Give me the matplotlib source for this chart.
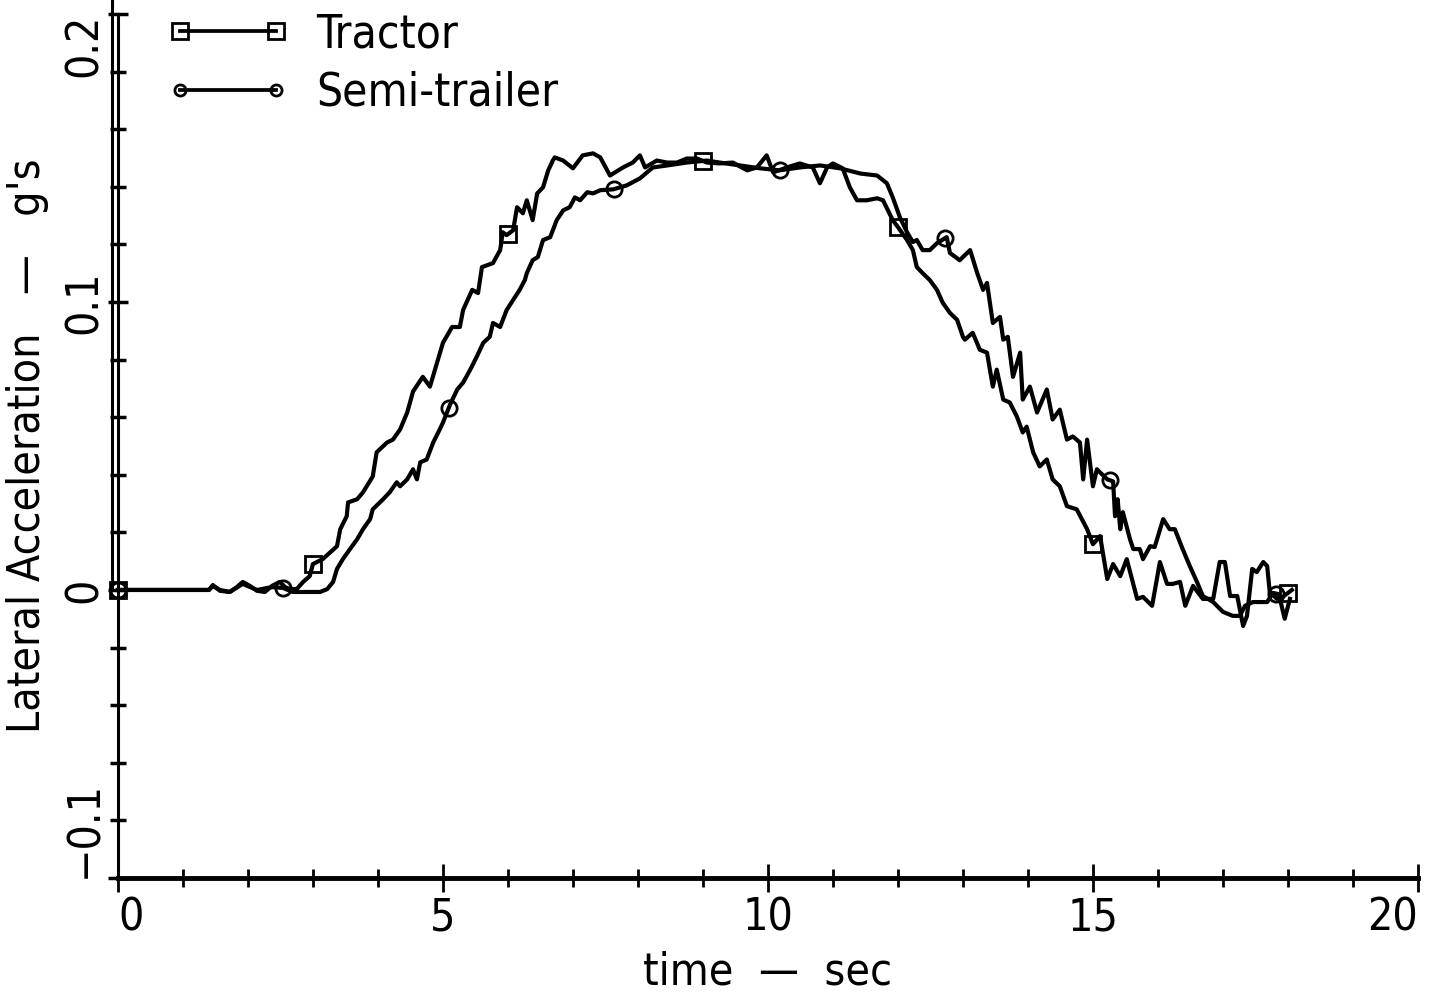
import numpy as np
import matplotlib
matplotlib.use('Agg')
import matplotlib.pyplot as plt
from matplotlib.lines import Line2D
from matplotlib.legend_handler import HandlerLine2D
from matplotlib.ticker import MultipleLocator
from matplotlib.transforms import offset_copy

plt.rcParams['font.family'] = ['DejaVu Sans']
plt.rcParams['font.stretch'] = 'condensed'

# (time in sec, lateral acceleration in g's)
tractor_trace = [
    (0.00, 0.0), (1.40, 0.0), (1.46, 0.0017), (1.57, -0.0003), (1.72, -0.0007),
    (1.83, 0.0010), (1.92, 0.0028), (2.03, 0.0014), (2.14, -0.0003), (2.26, -0.0007),
    (2.37, 0.0014), (2.49, 0.0028), (2.57, 0.0010), (2.65, 0.0003), (2.75, 0.0003),
    (2.85, 0.0028), (2.95, 0.0048), (3.00, 0.0090), (3.15, 0.0107), (3.37, 0.0152),
    (3.42, 0.0211), (3.52, 0.0256), (3.54, 0.0304), (3.68, 0.0315), (3.77, 0.0339),
    (3.92, 0.0394), (3.98, 0.0478), (4.14, 0.0512), (4.23, 0.0522), (4.34, 0.0557),
    (4.45, 0.0616), (4.54, 0.0689), (4.69, 0.0740), (4.80, 0.0706), (4.91, 0.0789),
    (5.00, 0.0858), (5.14, 0.0913), (5.26, 0.0913), (5.31, 0.0972), (5.45, 0.1042),
    (5.54, 0.1031), (5.60, 0.1121), (5.77, 0.1135), (5.88, 0.1180), (5.92, 0.1242),
    (5.98, 0.1232), (6.08, 0.1249), (6.14, 0.1329), (6.23, 0.1308), (6.29, 0.1353),
    (6.38, 0.1284), (6.45, 0.1377), (6.54, 0.1398), (6.62, 0.1457), (6.69, 0.1491),
    (6.72, 0.1502), (6.85, 0.1491), (7.00, 0.1464), (7.15, 0.1509), (7.31, 0.1516),
    (7.42, 0.1502), (7.57, 0.1439), (7.77, 0.1467), (7.92, 0.1484), (8.03, 0.1509),
    (8.11, 0.1467), (8.29, 0.1491), (8.45, 0.1484), (8.60, 0.1484), (8.75, 0.1498),
    (8.91, 0.1498), (9.06, 0.1484), (9.26, 0.1481), (9.46, 0.1484), (9.68, 0.1457),
    (9.83, 0.1467), (9.98, 0.1509), (10.08, 0.1450), (10.29, 0.1467), (10.49, 0.1481),
    (10.69, 0.1467), (10.80, 0.1412), (10.91, 0.1467), (11.00, 0.1481), (11.15, 0.1464),
    (11.26, 0.1398), (11.37, 0.1353), (11.52, 0.1353), (11.68, 0.1360), (11.77, 0.1353),
    (11.92, 0.1284), (12.00, 0.1260), (12.14, 0.1215), (12.23, 0.1180), (12.29, 0.1121),
    (12.38, 0.1100), (12.49, 0.1076), (12.60, 0.1042), (12.69, 0.0997), (12.80, 0.0962),
    (12.91, 0.0938), (13.00, 0.0879), (13.03, 0.0869), (13.15, 0.0893), (13.26, 0.0834),
    (13.37, 0.0824), (13.46, 0.0706), (13.52, 0.0765), (13.62, 0.0661), (13.72, 0.0651),
    (13.83, 0.0602), (13.92, 0.0547), (13.98, 0.0567), (14.08, 0.0478), (14.18, 0.0429),
    (14.29, 0.0453), (14.38, 0.0384), (14.49, 0.0360), (14.60, 0.0291), (14.75, 0.0280),
    (14.91, 0.0211), (15.00, 0.0159), (15.11, 0.0187), (15.22, 0.0038), (15.31, 0.0090),
    (15.42, 0.0048), (15.52, 0.0107), (15.62, 0.0021), (15.68, -0.0031), (15.77, -0.0024),
    (15.91, -0.0055), (16.03, 0.0097), (16.14, 0.0021), (16.23, 0.0021), (16.34, 0.0028),
    (16.42, -0.0055), (16.54, 0.0014), (16.69, -0.0031), (16.85, -0.0031), (16.95, 0.0097),
    (17.03, 0.0097), (17.11, -0.0021), (17.22, -0.0021), (17.31, -0.0125), (17.37, -0.0090),
    (17.45, 0.0073), (17.52, 0.0062), (17.62, 0.0097), (17.68, 0.0083), (17.72, -0.0007),
    (17.83, -0.0031), (17.92, -0.0024), (18.06, 0.0),
]

semi_trace = [
    (0.00, 0.0), (1.40, 0.0), (1.46, 0.0014), (1.57, 0.0), (1.72, -0.0007),
    (1.92, 0.0021), (2.14, 0.0), (2.37, 0.0010), (2.54, 0.0007), (2.69, -0.0007),
    (3.11, -0.0007), (3.22, 0.0003), (3.31, 0.0028), (3.37, 0.0073), (3.46, 0.0107),
    (3.57, 0.0142), (3.68, 0.0176), (3.77, 0.0211), (3.88, 0.0246), (3.92, 0.0280),
    (4.08, 0.0315), (4.18, 0.0339), (4.29, 0.0374), (4.34, 0.0360), (4.45, 0.0384),
    (4.54, 0.0419), (4.60, 0.0384), (4.65, 0.0443), (4.75, 0.0453), (4.85, 0.0512),
    (4.95, 0.0557), (5.00, 0.0581), (5.11, 0.0644), (5.22, 0.0696), (5.31, 0.0720),
    (5.42, 0.0765), (5.52, 0.0810), (5.62, 0.0858), (5.72, 0.0879), (5.77, 0.0927),
    (5.88, 0.0913), (5.98, 0.0972), (6.08, 0.1007), (6.18, 0.1042), (6.26, 0.1076),
    (6.29, 0.1100), (6.38, 0.1145), (6.46, 0.1156), (6.54, 0.1215), (6.65, 0.1225),
    (6.75, 0.1284), (6.85, 0.1318), (6.95, 0.1329), (7.03, 0.1363), (7.11, 0.1353),
    (7.22, 0.1381), (7.31, 0.1377), (7.42, 0.1388), (7.62, 0.1391), (7.83, 0.1405),
    (8.03, 0.1429), (8.23, 0.1467), (8.45, 0.1474), (8.75, 0.1484), (9.06, 0.1491),
    (9.26, 0.1484), (9.57, 0.1474), (9.88, 0.1464), (10.18, 0.1457), (10.49, 0.1467),
    (10.80, 0.1474), (11.11, 0.1464), (11.42, 0.1446), (11.68, 0.1439), (11.83, 0.1412),
    (11.92, 0.1363), (12.03, 0.1294), (12.14, 0.1242), (12.23, 0.1208), (12.29, 0.1215),
    (12.38, 0.1180), (12.49, 0.1180), (12.60, 0.1204), (12.75, 0.1225), (12.80, 0.1170),
    (12.95, 0.1145), (13.11, 0.1180), (13.22, 0.1100), (13.31, 0.1042), (13.37, 0.1066),
    (13.46, 0.0927), (13.57, 0.0948), (13.62, 0.0869), (13.69, 0.0879), (13.77, 0.0740),
    (13.88, 0.0824), (13.92, 0.0661), (14.03, 0.0706), (14.14, 0.0616), (14.29, 0.0696),
    (14.38, 0.0592), (14.49, 0.0626), (14.60, 0.0522), (14.69, 0.0533), (14.80, 0.0512),
    (14.85, 0.0384), (14.91, 0.0522), (15.00, 0.0360), (15.06, 0.0419), (15.22, 0.0384),
    (15.31, 0.0377), (15.34, 0.0256), (15.38, 0.0315), (15.42, 0.0211), (15.46, 0.0270),
    (15.57, 0.0176), (15.62, 0.0142), (15.72, 0.0142), (15.77, 0.0107), (15.88, 0.0152),
    (15.95, 0.0149), (16.08, 0.0246), (16.18, 0.0211), (16.26, 0.0211), (16.38, 0.0142),
    (16.49, 0.0083), (16.60, 0.0028), (16.69, -0.0021), (16.85, -0.0042), (17.00, -0.0076),
    (17.15, -0.0090), (17.26, -0.0090), (17.34, -0.0055), (17.46, -0.0042), (17.68, -0.0042),
    (17.77, -0.0010), (17.86, -0.0015), (17.95, -0.0100), (18.03, -0.0031),
]

# times where the plotting symbols sit on each curve
tractor_marks = [0.0, 3.0, 6.0, 9.0, 12.0, 15.0, 18.0]
semi_marks = [0.0, 2.545, 5.09, 7.635, 10.18, 12.725, 15.27, 17.815]

x_ticks = [0, 5, 10, 15, 20]
y_ticks = [-0.1, 0.0, 0.1, 0.2]
y_tick_labels = ['\u22120.1', '0', '0.1', '0.2']

tractor = np.array(tractor_trace).T
semi = np.array(semi_trace).T

fig = plt.figure(figsize=(14.33, 9.97), dpi=100)
ax = fig.add_axes([0.0823, 0.1194, 0.9072, 0.8666])

ax.plot(tractor[0], tractor[1], color='black', lw=3, clip_on=False)
ax.plot(semi[0], semi[1], color='black', lw=3, clip_on=False)
ax.plot(tractor_marks, np.interp(tractor_marks, tractor[0], tractor[1]), ls='none',
        marker='s', ms=12, mfc='none', mec='black', mew=2, clip_on=False)
ax.plot(semi_marks, np.interp(semi_marks, semi[0], semi[1]), ls='none',
        marker='o', ms=11, mfc='none', mec='black', mew=2, clip_on=False)

ax.set_xlim(0, 20)
ax.set_ylim(-0.1, 0.2)

# axes frame: thick bottom, doubled left line
for side in ['top', 'right']:
    ax.spines[side].set_visible(False)
ax.spines['bottom'].set_linewidth(3.5)
ax.spines['left'].set_linewidth(2.2)
trans = offset_copy(ax.get_yaxis_transform(), fig=fig, x=-6, y=0, units='dots')
ax.add_line(Line2D([0, 0], [0, 1], transform=trans, color='black', lw=2.2, clip_on=False))

ax.set_xticks(x_ticks)
ax.xaxis.set_minor_locator(MultipleLocator(1))
ax.set_yticks(y_ticks)
ax.set_yticklabels(y_tick_labels, rotation=90, va='center')
ax.yaxis.set_minor_locator(MultipleLocator(0.02))

ax.tick_params(axis='x', which='major', direction='inout', length=20, width=2,
               labelsize=32, pad=3)
ax.tick_params(axis='x', which='minor', direction='inout', length=13, width=2)
ax.tick_params(axis='y', which='major', direction='inout', length=15, width=2.5,
               labelsize=32, pad=1)
ax.tick_params(axis='y', which='minor', direction='inout', length=12, width=2.5)

xlabels = ax.get_xticklabels()
xlabels[0].set_ha('left')
xlabels[-1].set_ha('right')
ylabels = ax.get_yticklabels()
ylabels[0].set_va('bottom')
ylabels[-1].set_va('top')

ax.set_xlabel('time  \u2014  sec', fontsize=32, labelpad=8)
ax.set_ylabel("Lateral Acceleration   \u2014   g's", fontsize=32, labelpad=10)

handles = [
    Line2D([], [], color='black', lw=2.7, marker='s', ms=11, mfc='none', mew=2),
    Line2D([], [], color='black', lw=2.7, marker='o', ms=8, mfc='none', mew=2),
]
ax.legend(handles, ['Tractor', 'Semi-trailer'], loc='upper left',
          bbox_to_anchor=(0.023, 1.002), frameon=False, fontsize=33, numpoints=2,
          handlelength=3.5, handletextpad=0.17, labelspacing=0.3, borderaxespad=0,
          borderpad=0, handler_map={Line2D: HandlerLine2D(marker_pad=0.7)})

fig.savefig('out.png', dpi=100)
